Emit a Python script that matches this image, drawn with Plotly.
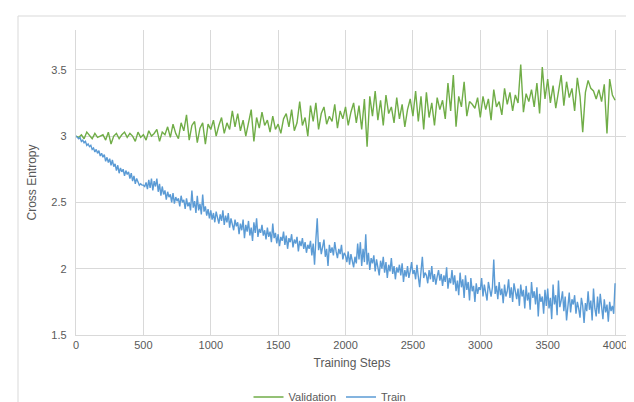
import plotly.graph_objects as go

train_steps = list(range(0, 4001, 10))
train_loss = [
    3.00, 2.99, 2.98, 2.99, 2.96, 2.97, 2.95, 2.96, 2.93, 2.94,
    2.92, 2.93, 2.90, 2.91, 2.88, 2.90, 2.87, 2.89, 2.85, 2.87,
    2.84, 2.86, 2.81, 2.84, 2.80, 2.83, 2.78, 2.82, 2.77, 2.79,
    2.74, 2.78, 2.72, 2.76, 2.73, 2.75, 2.70, 2.74, 2.71, 2.73,
    2.68, 2.72, 2.66, 2.70, 2.64, 2.68, 2.65, 2.63, 2.64, 2.63,
    2.63, 2.62, 2.65, 2.60, 2.67, 2.61, 2.68, 2.59, 2.66, 2.62,
    2.68, 2.58, 2.64, 2.55, 2.62, 2.56, 2.59, 2.52, 2.58, 2.54,
    2.56, 2.50, 2.57, 2.49, 2.54, 2.51, 2.53, 2.47, 2.55, 2.50,
    2.52, 2.45, 2.53, 2.47, 2.50, 2.44, 2.59, 2.46, 2.51, 2.42,
    2.55, 2.44, 2.49, 2.41, 2.56, 2.43, 2.47, 2.40, 2.45, 2.38,
    2.44, 2.37, 2.42, 2.35, 2.43, 2.38, 2.34, 2.41, 2.36, 2.44,
    2.33, 2.40, 2.35, 2.42, 2.31, 2.38, 2.33, 2.29, 2.37, 2.32,
    2.35, 2.26, 2.34, 2.29, 2.37, 2.23, 2.33, 2.28, 2.36, 2.25,
    2.31, 2.21, 2.35, 2.27, 2.38, 2.24, 2.30, 2.27, 2.33, 2.25,
    2.29, 2.22, 2.31, 2.24, 2.28, 2.20, 2.34, 2.23, 2.27, 2.19,
    2.26, 2.17, 2.24, 2.21, 2.28, 2.18, 2.25, 2.15, 2.23, 2.20,
    2.26, 2.16, 2.22, 2.19, 2.24, 2.13, 2.21, 2.17, 2.23, 2.15,
    2.20, 2.12, 2.18, 2.15, 2.21, 2.10, 2.19, 2.03, 2.22, 2.38,
    2.14, 2.20, 2.11, 2.17, 2.22, 2.09, 2.15, 2.02, 2.18, 2.12,
    2.16, 2.10, 2.20, 2.13, 2.08, 2.15, 2.11, 2.18, 2.07, 2.12,
    2.10, 2.05, 2.13, 2.03, 2.11, 2.06, 2.01, 2.09, 2.04, 2.19,
    2.07, 2.20, 2.02, 2.15, 2.05, 2.26, 2.03, 2.12, 1.99, 2.08,
    2.04, 2.10, 1.98, 2.07, 2.02, 1.95, 2.06, 2.00, 2.09, 1.97,
    2.05, 1.93, 2.03, 1.98, 2.08, 1.96, 2.02, 1.92, 2.01, 1.97,
    2.03, 1.95, 2.04, 1.90, 1.99, 1.94, 2.02, 1.93, 1.98, 2.05,
    1.96, 1.99, 1.92, 2.03, 1.94, 1.86, 1.98, 2.09, 1.93, 1.97,
    1.95, 1.89, 1.99, 1.92, 2.02, 1.90, 1.96, 1.88, 1.94, 1.99,
    1.91, 1.96, 1.87, 1.95, 1.90, 2.01, 1.85, 1.93, 1.89, 1.99,
    1.88, 1.95, 1.83, 1.91, 1.80, 1.97, 1.86, 1.92, 1.78, 1.95,
    1.84, 1.90, 1.76, 1.93, 1.83, 1.87, 1.75, 1.89, 1.81, 1.86,
    1.84, 1.93, 1.79, 1.88, 1.82, 1.76, 1.90, 1.83, 1.79, 1.86,
    2.07, 1.81, 1.87, 1.77, 1.90, 1.80, 1.85, 1.74, 1.88, 1.79,
    1.83, 1.92, 1.78, 1.86, 1.75, 1.89, 1.81, 1.77, 1.85, 1.72,
    1.88, 1.79, 1.84, 1.70, 1.87, 1.76, 1.82, 1.69, 1.90, 1.78,
    1.83, 1.73, 1.86, 1.64, 1.81, 1.75, 1.79, 1.66, 1.84, 1.72,
    1.85, 1.70, 1.78, 1.62, 1.88, 1.73, 1.80, 1.65, 1.91, 1.71,
    1.76, 1.83, 1.68, 1.79, 1.61, 1.74, 1.82, 1.67, 1.77, 1.73,
    1.80, 1.66, 1.75, 1.70, 1.63, 1.78, 1.72, 1.59, 1.74, 1.68,
    1.83, 1.69, 1.76, 1.61, 1.85, 1.70, 1.64, 1.79, 1.66, 1.81,
    1.71, 1.62, 1.77, 1.67, 1.73, 1.60, 1.75, 1.68, 1.72, 1.66,
    1.89,
]

val_steps = list(range(0, 4001, 20))
val_loss = [
    3.00, 2.99, 3.01, 2.98, 3.03, 3.00, 2.98, 3.02, 2.99, 3.00,
    3.01, 2.97, 3.03, 2.94, 3.00, 3.02, 2.98, 3.01, 3.03, 2.99,
    3.02, 3.00, 2.96, 3.03, 2.99, 3.01, 2.97, 3.04, 3.00, 3.02,
    3.05, 2.96, 3.03, 3.01, 3.07, 2.99, 3.09, 3.02, 2.98, 3.10,
    3.04, 3.16, 2.97, 3.08, 3.11, 2.95, 3.06, 3.10, 2.94, 3.09,
    3.05, 3.12, 3.00, 3.08, 3.14, 3.02, 3.10, 3.05, 3.19, 3.07,
    3.17, 3.04, 3.12, 3.00, 3.09, 3.20, 2.96, 3.14, 3.06, 3.18,
    3.08, 3.12, 3.03, 3.15, 3.05, 3.09, 3.02, 3.13, 3.17, 3.07,
    3.20, 3.04, 3.10, 3.26, 3.08, 3.14, 3.00, 3.23, 3.11, 3.25,
    3.05, 3.17, 3.22, 3.09, 3.15, 3.11, 3.24, 3.06, 3.19, 3.13,
    3.22, 3.08, 3.18, 3.25, 3.10, 3.23, 3.05, 3.28, 2.92, 3.30,
    3.15, 3.34, 3.12, 3.27, 3.08, 3.31, 3.17, 3.22, 3.10, 3.29,
    3.13, 3.24, 3.07, 3.20, 3.28, 3.15, 3.34, 3.11, 3.30, 3.05,
    3.33, 3.14, 3.25, 3.08, 3.29, 3.20, 3.27, 3.13, 3.40, 3.19,
    3.46, 3.07, 3.30, 3.22, 3.41, 3.15, 3.26, 3.24, 3.21, 3.29,
    3.14, 3.30, 3.20, 3.28, 3.12, 3.35, 3.22, 3.26, 3.16, 3.36,
    3.24, 3.33, 3.19, 3.31, 3.25, 3.54, 3.18, 3.32, 3.26, 3.35,
    3.22, 3.40, 3.17, 3.52, 3.28, 3.43, 3.25, 3.38, 3.21, 3.33,
    3.46, 3.23, 3.41, 3.29, 3.36, 3.19, 3.44, 3.30, 3.03, 3.33,
    3.42, 3.36, 3.34, 3.28, 3.35, 3.26, 3.39, 3.02, 3.43, 3.31,
    3.27,
]

x_ticks = [0, 500, 1000, 1500, 2000, 2500, 3000, 3500, 4000]
y_ticks = [1.5, 2, 2.5, 3, 3.5]
y_tick_text = ["1.5", "2", "2.5", "3", "3.5"]

FONT = "Liberation Sans"
GRID = "#D9D9D9"
TXT = "#595959"

fig = go.Figure()
fig.add_trace(go.Scatter(x=val_steps, y=val_loss, mode="lines", name="Validation",
                         line=dict(color="#70AD47", width=1.4)))
fig.add_trace(go.Scatter(x=train_steps, y=train_loss, mode="lines", name="Train",
                         line=dict(color="#5B9BD5", width=1.4)))

L, R, T, B = 68, 14, 22, 75
W, H = 634, 402
pw, ph = W - L - R, H - T - B

def px(xp):
    return (xp - L) / pw

def py(yp):
    return (H - B - yp) / ph

# chart-area border (top and left edges visible)
fig.add_shape(type="line", xref="paper", yref="paper",
              x0=px(10), x1=px(640), y0=py(8), y1=py(8),
              line=dict(color=GRID, width=1))
fig.add_shape(type="line", xref="paper", yref="paper",
              x0=px(10), x1=px(10), y0=py(8), y1=py(410),
              line=dict(color=GRID, width=1))

fig.update_layout(
    width=W, height=H,
    margin=dict(l=L, r=R, t=T, b=B, autoexpand=False),
    paper_bgcolor="white", plot_bgcolor="white",
    font=dict(family=FONT, color=TXT, size=11),
    showlegend=True,
    legend=dict(orientation="h", x=px(322), xanchor="center", y=py(389), yanchor="middle",
                font=dict(size=11, color=TXT), itemwidth=30, traceorder="normal"),
    xaxis=dict(range=[0, 4096], tickvals=x_ticks, ticktext=[str(v) for v in x_ticks],
               showgrid=True, gridcolor=GRID, gridwidth=1.3, zeroline=False,
               showline=True, linecolor=GRID, linewidth=1.3, ticks="",
               tickfont=dict(size=11, color=TXT),
               title=dict(text="Training Steps", font=dict(size=12, color=TXT), standoff=8)),
    yaxis=dict(range=[1.5, 3.8], tickvals=y_ticks, ticktext=y_tick_text,
               showgrid=True, gridcolor=GRID, gridwidth=1.3, zeroline=False,
               showline=True, linecolor=GRID, linewidth=1.3, ticks="",
               tickfont=dict(size=11, color=TXT), ticklabelstandoff=6,
               title=dict(text="Cross Entropy", font=dict(size=12, color=TXT), standoff=12)),
)

fig.write_html("out.html")
